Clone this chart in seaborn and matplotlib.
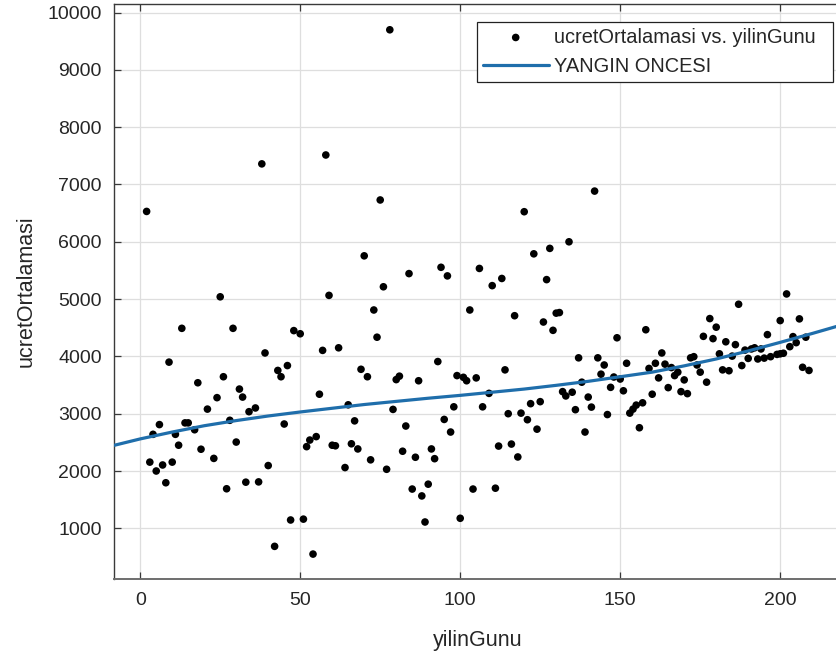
import numpy as np
import pandas as pd
import matplotlib
matplotlib.use("Agg")
import matplotlib.pyplot as plt
import seaborn as sns

# Day of year and average wage observations
yilin_gunu = [
    2, 3, 4, 5, 6, 7, 8, 9, 10, 11, 12, 13, 14, 15, 17, 18, 19, 21, 23, 24,
    25, 26, 27, 28, 29, 30, 31, 32, 33, 34, 36, 37, 38, 39, 40, 42, 43, 44, 45, 46,
    47, 48, 50, 51, 52, 53, 54, 55, 56, 57, 58, 59, 60, 61, 62, 64, 65, 66, 67, 68,
    69, 70, 71, 72, 73, 74, 75, 76, 77, 78, 79, 80, 81, 82, 83, 84, 85, 86, 87, 88,
    89, 90, 91, 92, 93, 94, 95, 96, 97, 98, 99, 100, 101, 102, 103, 104, 105, 106, 107, 109,
    110, 111, 112, 113, 114, 115, 116, 117, 118, 119, 120, 121, 122, 123, 124, 125, 126, 127, 128, 129,
    130, 131, 132, 133, 134, 135, 136, 137, 138, 139, 140, 141, 142, 143, 144, 145, 146, 147, 148, 149,
    150, 151, 152, 153, 154, 155, 156, 157, 158, 159, 160, 161, 162, 163, 164, 165, 166, 167, 168, 169,
    170, 171, 172, 173, 174, 175, 176, 177, 178, 179, 180, 181, 182, 183, 184, 185, 186, 187, 188, 189,
    190, 191, 192, 193, 194, 195, 196, 197, 199, 200, 200, 201, 202, 203, 204, 205, 206, 207, 208, 209,
]
ucret_ortalamasi = [
    6530, 2155, 2640, 2000, 2810, 2105, 1795, 3900, 2155, 2640, 2450, 4490, 2840, 2840, 2720, 3540, 2380, 3080, 2220, 3280,
    5040, 3645, 1690, 2885, 4490, 2505, 3430, 3290, 1805, 3035, 3100, 1810, 7360, 4060, 2095, 685, 3755, 3645, 2820, 3840,
    1145, 4450, 4395, 1160, 2425, 2540, 550, 2600, 3340, 4105, 7515, 5065, 2450, 2440, 4150, 2060, 3155, 2475, 2875, 2385,
    3775, 5755, 3645, 2195, 4810, 4335, 6730, 5215, 2030, 9700, 3075, 3595, 3655, 2345, 2785, 5445, 1685, 2240, 3575, 1565,
    1110, 1770, 2385, 2215, 3910, 5555, 2900, 5405, 2680, 3120, 3665, 1175, 3635, 3575, 4810, 1685, 3625, 5535, 3120, 3355,
    5235, 1700, 2435, 5360, 3765, 3000, 2470, 4710, 2245, 3010, 6525, 2895, 3175, 5790, 2730, 3210, 4600, 5340, 5885, 4455,
    4755, 4765, 3385, 3310, 6000, 3375, 3070, 3975, 3550, 2680, 3290, 3115, 6885, 3975, 3690, 3850, 2985, 3460, 3640, 4325,
    3605, 3400, 3880, 3010, 3080, 3150, 2755, 3190, 4465, 3790, 3340, 3880, 3625, 4060, 3865, 3455, 3805, 3665, 3725, 3385,
    3590, 3350, 3975, 3995, 3850, 3725, 4350, 3550, 4660, 4310, 4510, 4045, 3765, 4255, 3750, 4005, 4205, 4910, 3840, 4110,
    3965, 4130, 4150, 3955, 4130, 3970, 4380, 3995, 4035, 4045, 4625, 4055, 5090, 4170, 4345, 4240, 4655, 3810, 4335, 3755,
]

# "YANGIN ONCESI" fitted trend, sampled along the day axis
trend_gunu = [-8, 0, 10, 20, 30, 40, 50, 60, 70, 80, 90, 100,
              110, 120, 130, 140, 150, 160, 170, 180, 190, 200, 210, 219]
trend_ucret = [2450, 2560, 2680, 2790, 2880, 2960, 3030, 3095, 3160, 3215, 3270, 3320,
               3375, 3430, 3495, 3565, 3645, 3725, 3835, 3955, 4095, 4245, 4400, 4545]

x_ticks = [0, 50, 100, 150, 200]
y_ticks = [1000, 2000, 3000, 4000, 5000, 6000, 7000, 8000, 9000, 10000]
x_label = "yilinGunu"
y_label = "ucretOrtalamasi"
scatter_label = "ucretOrtalamasi vs. yilinGunu"
fit_label = "YANGIN ONCESI"

df = pd.DataFrame({x_label: yilin_gunu, y_label: ucret_ortalamasi})
trend_df = pd.DataFrame({x_label: trend_gunu, y_label: trend_ucret})

sns.set_theme(style="whitegrid")
plt.rcParams["font.family"] = ["Liberation Sans", "DejaVu Sans"]

fig = plt.figure(figsize=(8.37, 6.62), dpi=100)
ax = fig.add_axes([114.3 / 837, 1 - 579.3 / 662, (841 - 114.3) / 837, (579.3 - 4) / 662])

sns.scatterplot(data=df, x=x_label, y=y_label, ax=ax, color="black", s=30,
                edgecolor="none", label=scatter_label, zorder=3)
sns.lineplot(data=trend_df, x=x_label, y=y_label, ax=ax, color="#1f6eab",
             linewidth=2.3, label=fit_label, zorder=4)

ax.set_xlim(-8.1, 219.0)
ax.set_ylim(110, 10150)
ax.set_xticks(x_ticks)
ax.set_yticks(y_ticks)
ax.set_facecolor("white")
ax.grid(True, color="#dedede", linewidth=0.9)
for side, sp in ax.spines.items():
    sp.set_visible(True)
    sp.set_color("#3a3a3a")
    sp.set_linewidth(1.0)
ax.spines["bottom"].set_color("#6e6e6e")
ax.spines["bottom"].set_linewidth(1.4)

ax.tick_params(axis="both", direction="in", length=5, width=0.9, color="#3a3a3a",
               labelsize=14, labelcolor="#262626", pad=9)
ax.tick_params(top=True, right=False, bottom=True, left=True)
ax.set_xlabel(x_label, fontsize=15.5, color="#262626", labelpad=15)
ax.set_ylabel(y_label, fontsize=15.5, color="#262626", labelpad=8)

leg = ax.legend(loc="upper left", bbox_to_anchor=(0.4987, 0.8692, 0.4907, 0.1),
                mode="expand", fontsize=14.4, frameon=True, fancybox=False,
                framealpha=1, edgecolor="#222222", handlelength=3.3,
                handletextpad=0.25, borderpad=0.3, labelspacing=0.5,
                borderaxespad=0)
leg.get_frame().set_linewidth(0.9)

fig.savefig("out.png", dpi=100, facecolor="white")
